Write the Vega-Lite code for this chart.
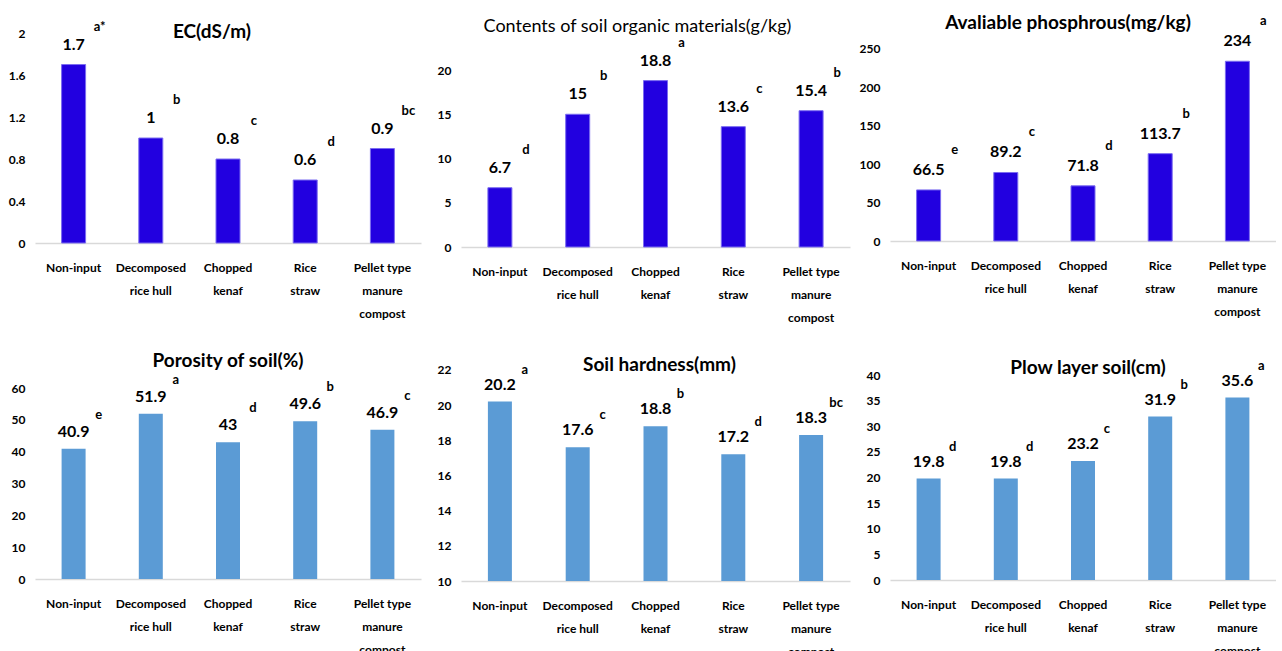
{
  "$schema": "https://vega.github.io/schema/vega-lite/v6.json",
  "background": "white",
  "padding": {"left": 8, "top": 14, "right": 0, "bottom": 0},
  "datasets": {
    "ec": [
      {"cat": "Non-input", "val": 1.7, "sig": "a*"},
      {"cat": "Decomposed|rice hull", "val": 1, "sig": "b"},
      {"cat": "Chopped|kenaf", "val": 0.8, "sig": "c"},
      {"cat": "Rice|straw", "val": 0.6, "sig": "d"},
      {"cat": "Pellet type|manure|compost", "val": 0.9, "sig": "bc"}
    ],
    "som": [
      {"cat": "Non-input", "val": 6.7, "sig": "d"},
      {"cat": "Decomposed|rice hull", "val": 15, "sig": "b"},
      {"cat": "Chopped|kenaf", "val": 18.8, "sig": "a"},
      {"cat": "Rice|straw", "val": 13.6, "sig": "c"},
      {"cat": "Pellet type|manure|compost", "val": 15.4, "sig": "b"}
    ],
    "phos": [
      {"cat": "Non-input", "val": 66.5, "sig": "e"},
      {"cat": "Decomposed|rice hull", "val": 89.2, "sig": "c"},
      {"cat": "Chopped|kenaf", "val": 71.8, "sig": "d"},
      {"cat": "Rice|straw", "val": 113.7, "sig": "b"},
      {"cat": "Pellet type|manure|compost", "val": 234, "sig": "a"}
    ],
    "por": [
      {"cat": "Non-input", "val": 40.9, "sig": "e"},
      {"cat": "Decomposed|rice hull", "val": 51.9, "sig": "a"},
      {"cat": "Chopped|kenaf", "val": 43, "sig": "d"},
      {"cat": "Rice|straw", "val": 49.6, "sig": "b"},
      {"cat": "Pellet type|manure|compost", "val": 46.9, "sig": "c"}
    ],
    "hard": [
      {"cat": "Non-input", "val": 20.2, "sig": "a"},
      {"cat": "Decomposed|rice hull", "val": 17.6, "sig": "c"},
      {"cat": "Chopped|kenaf", "val": 18.8, "sig": "b"},
      {"cat": "Rice|straw", "val": 17.2, "sig": "d"},
      {"cat": "Pellet type|manure|compost", "val": 18.3, "sig": "bc"}
    ],
    "plow": [
      {"cat": "Non-input", "val": 19.8, "sig": "d"},
      {"cat": "Decomposed|rice hull", "val": 19.8, "sig": "d"},
      {"cat": "Chopped|kenaf", "val": 23.2, "sig": "c"},
      {"cat": "Rice|straw", "val": 31.9, "sig": "b"},
      {"cat": "Pellet type|manure|compost", "val": 35.6, "sig": "a"}
    ]
  },
  "config": {
    "view": {"stroke": null},
    "font": "Lato",
    "axisX": {
      "title": null, "labelAngle": 0, "ticks": false, "domainColor": "#d9d9d9", "domainWidth": 1.5,
      "labelFont": "Lato", "labelFontSize": 12, "labelFontWeight": "bold",
      "labelColor": "#000000", "labelPadding": 19, "labelLineHeight": 23, "labelLimit": 200, "labelOverlap": false,
      "labelExpr": "split(datum.label, '|')"
    },
    "axisY": {
      "title": null, "ticks": false, "domain": false, "grid": false,
      "labelFont": "Lato", "labelFontSize": 12, "labelFontWeight": "bold", "labelFlush": false, "labelAlign": "right",
      "labelColor": "#000000", "labelPadding": 10, "labelExpr": "datum.value + ''"
    },
    "title": {"anchor": "middle", "frame": "group", "color": "#000000", "font": "Lato", "fontSize": 19, "fontWeight": "bold"},
    "text": {"font": "Lato", "fontWeight": "bold", "color": "#000000"}
  },
  "columns": 3,
  "spacing": {"row": 121, "column": 40},
  "bounds": "flush",
  "concat": [
    {
      "width": 386, "height": 213,
      "data": {"name": "ec"},
      "title": {"text": "EC(dS/m)", "offset": -21, "dx": -16},
      "encoding": {
        "x": {"field": "cat", "type": "nominal", "sort": null, "scale": {"paddingInner": 0, "paddingOuter": 0}},
        "y": {"field": "val", "type": "quantitative", "scale": {"domain": [0, 2.029], "nice": false, "zero": false}, "axis": {"values": [0, 0.4, 0.8, 1.2, 1.6, 2]}}
      },
      "layer": [
        {"mark": {"type": "bar", "width": 24, "color": "#2200E0", "stroke": "#7B6CF0", "strokeWidth": 1}},
        {"mark": {"type": "text", "dy": -15, "baseline": "alphabetic", "fontSize": 16}, "encoding": {"text": {"field": "val", "type": "nominal"}}},
        {"mark": {"type": "text", "dx": 26, "dy": -38, "baseline": "middle", "fontSize": 13}, "encoding": {"text": {"field": "sig", "type": "nominal"}}}
      ]
    },
    {
      "width": 389, "height": 217,
      "data": {"name": "som"},
      "title": {"text": "Contents of soil organic materials(g/kg)", "fontWeight": "normal", "fontSize": 18, "offset": -6, "dx": -18},
      "encoding": {
        "x": {"field": "cat", "type": "nominal", "sort": null, "scale": {"paddingInner": 0, "paddingOuter": 0}},
        "y": {"field": "val", "type": "quantitative", "scale": {"domain": [0, 24.52], "nice": false, "zero": false}, "axis": {"values": [0, 5, 10, 15, 20]}}
      },
      "layer": [
        {"mark": {"type": "bar", "width": 24, "color": "#2200E0", "stroke": "#7B6CF0", "strokeWidth": 1}},
        {"mark": {"type": "text", "dy": -15, "baseline": "alphabetic", "fontSize": 16}, "encoding": {"text": {"field": "val", "type": "nominal"}}},
        {"mark": {"type": "text", "dx": 26, "dy": -38, "baseline": "middle", "fontSize": 13}, "encoding": {"text": {"field": "sig", "type": "nominal"}}}
      ]
    },
    {
      "width": 386, "height": 211,
      "data": {"name": "phos"},
      "title": {"text": "Avaliable phosphrous(mg/kg)", "offset": -18, "dx": -15},
      "encoding": {
        "x": {"field": "cat", "type": "nominal", "sort": null, "scale": {"paddingInner": 0, "paddingOuter": 0}},
        "y": {"field": "val", "type": "quantitative", "scale": {"domain": [0, 274.7], "nice": false, "zero": false}, "axis": {"values": [0, 50, 100, 150, 200, 250]}}
      },
      "layer": [
        {"mark": {"type": "bar", "width": 24, "color": "#2200E0", "stroke": "#7B6CF0", "strokeWidth": 1}},
        {"mark": {"type": "text", "dy": -15, "baseline": "alphabetic", "fontSize": 16}, "encoding": {"text": {"field": "val", "type": "nominal"}}},
        {"mark": {"type": "text", "dx": 26, "dy": -40, "baseline": "middle", "fontSize": 13}, "encoding": {"text": {"field": "sig", "type": "nominal"}}}
      ]
    },
    {
      "width": 386, "height": 211,
      "data": {"name": "por"},
      "title": {"text": "Porosity of soil(%)", "offset": -3, "dx": 0},
      "encoding": {
        "x": {"field": "cat", "type": "nominal", "sort": null, "scale": {"paddingInner": 0, "paddingOuter": 0}},
        "y": {"field": "val", "type": "quantitative", "scale": {"domain": [0, 66.3], "nice": false, "zero": false}, "axis": {"values": [0, 10, 20, 30, 40, 50, 60]}}
      },
      "layer": [
        {"mark": {"type": "bar", "width": 24, "color": "#5B9BD5"}},
        {"mark": {"type": "text", "dy": -12, "baseline": "alphabetic", "fontSize": 16}, "encoding": {"text": {"field": "val", "type": "nominal"}}},
        {"mark": {"type": "text", "dx": 25, "dy": -34, "baseline": "middle", "fontSize": 13}, "encoding": {"text": {"field": "sig", "type": "nominal"}}}
      ]
    },
    {
      "width": 389, "height": 213,
      "data": {"name": "hard"},
      "title": {"text": "Soil hardness(mm)", "offset": -11, "dx": 4},
      "encoding": {
        "x": {"field": "cat", "type": "nominal", "sort": null, "scale": {"paddingInner": 0, "paddingOuter": 0}},
        "y": {"field": "val", "type": "quantitative", "scale": {"domain": [10, 22.11], "nice": false, "zero": false}, "axis": {"values": [10, 12, 14, 16, 18, 20, 22]}}
      },
      "layer": [
        {"mark": {"type": "bar", "width": 24, "color": "#5B9BD5"}, "encoding": {"y2": {"datum": 10}}},
        {"mark": {"type": "text", "dy": -12, "baseline": "alphabetic", "fontSize": 16}, "encoding": {"text": {"field": "val", "type": "nominal"}}},
        {"mark": {"type": "text", "dx": 25, "dy": -32, "baseline": "middle", "fontSize": 13}, "encoding": {"text": {"field": "sig", "type": "nominal"}}}
      ]
    },
    {
      "width": 386, "height": 212,
      "data": {"name": "plow"},
      "title": {"text": "Plow layer soil(cm)", "offset": -18, "dx": 5},
      "encoding": {
        "x": {"field": "cat", "type": "nominal", "sort": null, "scale": {"paddingInner": 0, "paddingOuter": 0}},
        "y": {"field": "val", "type": "quantitative", "scale": {"domain": [0, 41.37], "nice": false, "zero": false}, "axis": {"values": [0, 5, 10, 15, 20, 25, 30, 35, 40]}}
      },
      "layer": [
        {"mark": {"type": "bar", "width": 24, "color": "#5B9BD5"}},
        {"mark": {"type": "text", "dy": -12, "baseline": "alphabetic", "fontSize": 16}, "encoding": {"text": {"field": "val", "type": "nominal"}}},
        {"mark": {"type": "text", "dx": 24, "dy": -32, "baseline": "middle", "fontSize": 13}, "encoding": {"text": {"field": "sig", "type": "nominal"}}}
      ]
    }
  ]
}
